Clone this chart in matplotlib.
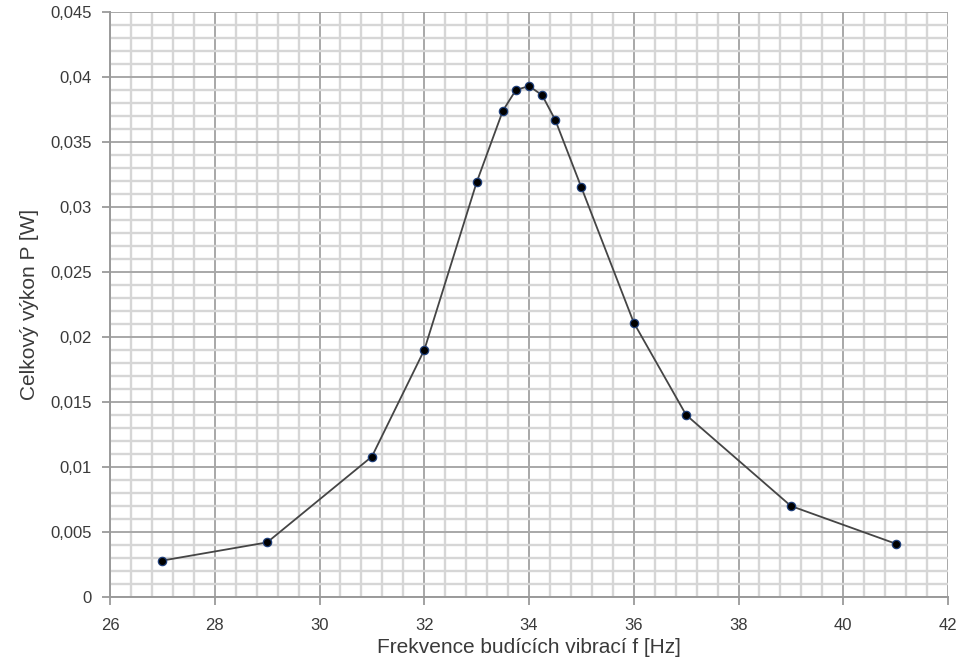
import matplotlib
matplotlib.use("Agg")
import matplotlib.pyplot as plt
from matplotlib.ticker import MultipleLocator, FuncFormatter

freq = [27, 29, 31, 32, 33, 33.5, 33.75, 34, 34.25, 34.5, 35, 36, 37, 39, 41]
power = [0.0028, 0.0042, 0.0108, 0.019, 0.0319, 0.0374, 0.0390, 0.0393,
         0.0386, 0.0367, 0.0315, 0.0211, 0.0140, 0.0070, 0.0041]

x_ticks = [26, 28, 30, 32, 34, 36, 38, 40, 42]
y_ticks = [0, 0.005, 0.01, 0.015, 0.02, 0.025, 0.03, 0.035, 0.04, 0.045]

plt.rcParams['font.family'] = ['Liberation Sans', 'DejaVu Sans']

fig = plt.figure(figsize=(9.57, 6.65), dpi=100)
ax = fig.add_axes([0.115, 0.1023, 0.8756, 0.8797])

ax.set_xlim(26, 42)
ax.set_ylim(0, 0.045)
ax.set_xticks(x_ticks)
ax.set_yticks(y_ticks)
ax.xaxis.set_minor_locator(MultipleLocator(0.4))
ax.yaxis.set_minor_locator(MultipleLocator(0.001))

def yfmt(v, pos):
    s = ('%.3f' % v).rstrip('0').rstrip('.')
    return s.replace('.', ',')
ax.yaxis.set_major_formatter(FuncFormatter(yfmt))

ax.grid(which='minor', color='#d6d6d6', linewidth=1.7, zorder=0)
ax.grid(which='major', color='#a8a8a8', linewidth=1.4, zorder=0)
ax.set_axisbelow(True)

for s in ['top', 'right']:
    ax.spines[s].set_visible(False)
for s in ['left', 'bottom']:
    ax.spines[s].set_color('#9a9a9a')
    ax.spines[s].set_linewidth(1.4)

ax.tick_params(axis='both', which='major', direction='out', length=6,
               color='#9a9a9a', labelsize=12, labelcolor='#3a3a3a', width=1.3)
ax.tick_params(axis='both', which='minor', length=0)
ax.tick_params(axis='x', pad=9)
ax.tick_params(axis='y', pad=7)

ax.plot(freq, power, color='#454545', linewidth=1.3, zorder=3,
        marker='o', markersize=6, markerfacecolor='black',
        markeredgecolor='#1f3f7a', markeredgewidth=0.9)

ax.set_xlabel('Frekvence budících vibrací f [Hz]', fontsize=15,
              color='#3a3a3a', labelpad=4)
ax.set_ylabel('Celkový výkon P [W]', fontsize=15, color='#3a3a3a',
              labelpad=8)

fig.savefig('out.png', dpi=100)
